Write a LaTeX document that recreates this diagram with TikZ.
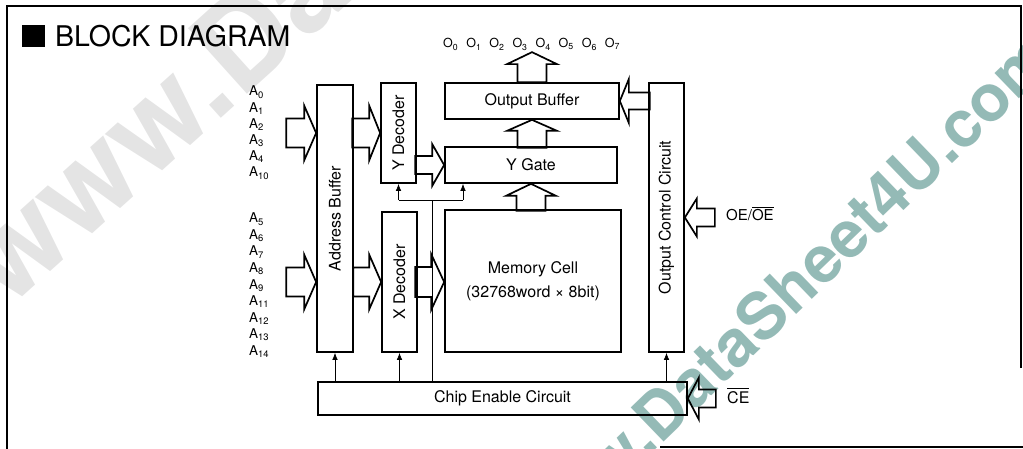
\documentclass[tikz,border=0pt]{standalone}
\usepackage{amsmath,graphicx}
\usepackage{fontspec}
\setmainfont{TeX Gyre Heros}
\usetikzlibrary{arrows.meta,calc}
\definecolor{wmgray}{RGB}{228,228,228}
\definecolor{wmteal}{RGB}{148,186,182}

\begin{document}
\begin{tikzpicture}[x=1pt,y=-1pt,line join=miter,
  box/.style={draw,line width=1.7pt,inner sep=0pt,font=\fontsize{16}{24}\selectfont,align=center},
  sig/.style={line width=0.7pt,-{Latex[length=7pt,width=5.5pt]}},
  wire/.style={line width=0.7pt},
  pin/.style={anchor=base west,inner sep=0pt,font=\fontsize{13.5}{16}\selectfont},
  wmark/.style={anchor=base west,inner sep=0pt},
  pics/busarrow/.style n args={4}{code={
    \draw[line width=1.7pt] (0,0)--(-#4,#3)--(-#4,#2)--(-#1,#2)--(-#1,-#2)--(-#4,-#2)--(-#4,-#3)--cycle;}}]
\useasboundingbox (0,0) rectangle (1023,449);
% Watermarks behind the drawing.
\begin{scope}
\clip (0,0) rectangle (1023,449);
\node[wmark,text=wmgray,rotate=42,font=\fontsize{121}{121}\selectfont\bfseries] (wmleft) at (8,310) {www.DataSheet4U.com};
\node[wmark,text=wmteal,rotate=44,font=\fontsize{65}{65}\selectfont\bfseries] (wmright) at (540,562) {www.DataSheet4U.com};
\end{scope}
% Frame and title.
\draw[line width=1.8pt] (7,449)--(7,6)--(1021,6)--(1021,368);
\draw[line width=1.8pt] (660,447)--(1023,447);
\fill (22,25) rectangle (45,47);
\node[anchor=base west,inner sep=0pt,font=\fontsize{28.5}{30}\selectfont] (title) at (55,47) {BLOCK DIAGRAM};
% Blocks.
\node[box,minimum width=36pt,minimum height=267pt] (abuf) at (335,218.5) {\rotatebox{90}{Address Buffer}};
\node[box,minimum width=35pt,minimum height=100pt] (ydec) at (398.5,133) {\rotatebox{90}{Y Decoder}};
\node[box,minimum width=35pt,minimum height=140pt] (xdec) at (399.5,282) {\rotatebox{90}{X Decoder}};
\node[box,minimum width=174pt,minimum height=36pt] (obuf) at (532,101) {Output Buffer};
\node[box,minimum width=172pt,minimum height=36pt] (ygate) at (531,165) {Y Gate};
\node[box,minimum width=176pt,minimum height=142pt] (mem) at (533,281) {Memory Cell\\(32768word × 8bit)};
\node[box,minimum width=35pt,minimum height=269pt] (occ) at (666.5,217.5) {\rotatebox{90}{Output Control Circuit}};
\node[box,minimum width=369pt,minimum height=33pt] (cec) at (502.5,398.5) {Chip Enable Circuit};
% Bus arrows.
\pic at (abuf.west |- ydec.west) {busarrow={30}{14.5}{27.5}{12}};
\pic at (ydec.west) {busarrow={28}{14.5}{27.5}{11}};
\pic at (abuf.west |- xdec.west) {busarrow={30}{14.5}{27.5}{12}};
\pic at (xdec.west) {busarrow={28}{14.5}{27.5}{12}};
\pic at (mem.west |- xdec.east) {busarrow={29}{15}{28}{13}};
\pic at (ygate.west) {busarrow={29}{9}{21}{12}};
\pic[rotate=90] at (obuf.south) {busarrow={28}{14.5}{25}{11}};
\pic[rotate=90] at (ygate.south) {busarrow={27}{14.5}{25}{12}};
\pic[rotate=90] at ($(obuf.north)+(0,-30)$) {busarrow={30}{14.5}{25}{12}};
\pic[rotate=180] at (obuf.east) {busarrow={30}{8.5}{22}{9}};
\pic[rotate=180] at (occ.east) {busarrow={30}{9}{19}{12}};
\pic[rotate=180] at (cec.east) {busarrow={28}{9}{21}{11}};
% Chip enable lines.
\draw[sig] (cec.north -| abuf.south) -- (abuf.south);
\draw[sig] (cec.north -| xdec.south) -- (xdec.south);
\draw[sig] (cec.north -| occ.south) -- (occ.south);
\coordinate (tap) at (432,200);
\draw[wire] (cec.north -| tap) -- (tap);
\draw[wire] (tap -| ydec.south) -- (463,200) coordinate (yg);
\draw[sig] (tap -| ydec.south) -- (ydec.south);
\draw[sig] (yg) -- (yg |- ygate.south);
% Pin labels.
\foreach \s [count=\i from 0] in {0,1,2,3,4,10}
  \node[pin] (a\s) at (249,{96+16.2*\i}) {A\textsubscript{\s}};
\foreach \s [count=\i from 0] in {5,6,7,8,9,11,12,13,14}
  \node[pin] (a\s) at (249,{223+16.5*\i}) {A\textsubscript{\s}};
\foreach \i in {0,...,7}
  \node[pin,font=\fontsize{12.5}{14}\selectfont] (o\i) at ({443+23.1*\i},48) {O\textsubscript{\i}};
\node[pin,font=\fontsize{15}{18}\selectfont] (oe) at (726,221) {OE/$\overline{\hbox{OE}}$};
\node[pin,font=\fontsize{16}{18}\selectfont] (ce) at (727,403) {$\overline{\hbox{CE}}$};
\end{tikzpicture}
\end{document}
